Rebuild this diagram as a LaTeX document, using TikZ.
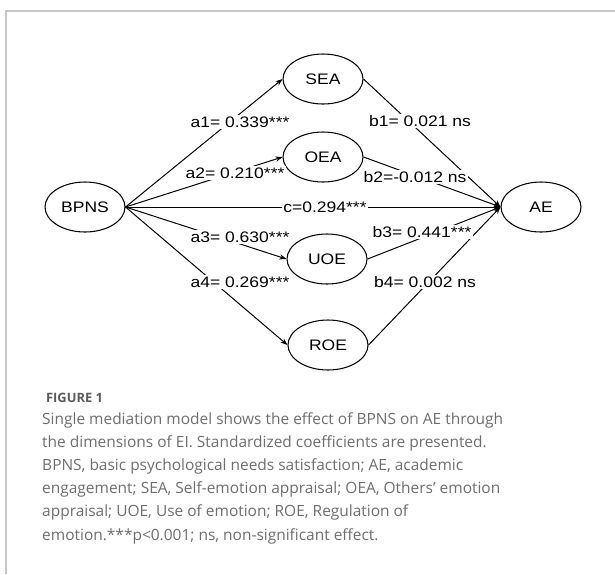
\documentclass[tikz,border=0pt]{standalone}
\usepackage{fontspec}
\setmainfont{Open Sans}
\newfontfamily\diagfont[FakeStretch=1.15]{Liberation Sans}
\usepackage{tikz}
\usetikzlibrary{arrows.meta,shapes.geometric}
\definecolor{framegray}{HTML}{C8C8C8}
\definecolor{capgray}{HTML}{6E6E6E}
\definecolor{headgray}{HTML}{5A5A5A}

\begin{document}
\begin{tikzpicture}[x=0.03cm, y=-0.03cm,
	var/.style={draw, ellipse, inner sep=0pt, line width=0.9pt, minimum width=2.4cm, minimum height=1.5cm, font=\diagfont\fontsize{13}{15}\selectfont},
	coef/.style={fill=white, inner sep=1.5pt, font=\diagfont\fontsize{13}{15}\selectfont},
	link/.style={line width=0.85pt, -{Stealth[length=6pt, width=4.5pt]}}]
		%%%%% START %%%%%
		
		\useasboundingbox (0, 0) rectangle (615, 574);
		\draw[line width=1.2pt, color=framegray] (615, 11) -- (6, 11) -- (6, 574);
		
		\node[var] (BPNS) at (85, 207) {BPNS};
		\node[var] (AE) at (541, 207) {AE};
		\node[var] (SEA) at (323, 79) {SEA};
		\node[var] (OEA) at (323, 157) {OEA};
		\node[var] (UOE) at (327, 259) {UOE};
		\node[var] (ROE) at (328, 345) {ROE};
		
		\draw[link] (BPNS.east) -- (SEA.west);
		\draw[link] (BPNS.east) -- (OEA.west);
		\draw[link] (BPNS.east) -- (AE.west);
		\draw[link] (BPNS.east) -- (UOE.west);
		\draw[link] (BPNS.east) -- (ROE.west);
		
		\draw[link] (SEA.east) -- (AE.west);
		\draw[link] (OEA.east) -- (AE.west);
		\draw[link] (UOE.east) -- (AE.west);
		\draw[link] (ROE.east) -- (AE.west);
		
		\node[coef] (a1) at (240, 122) {a1= 0.339***};
		\node[coef] (a2) at (235, 173) {a2= 0.210***};
		\node[coef] (c) at (325, 207) {c=0.294***};
		\node[coef] (a3) at (240, 237) {a3= 0.630***};
		\node[coef] (a4) at (240, 282) {a4= 0.269***};
		
		\node[coef] (b1) at (420, 121) {b1= 0.021 ns};
		\node[coef] (b2) at (415, 177) {b2=-0.012 ns};
		\node[coef] (b3) at (422, 232) {b3= 0.441***};
		\node[coef] (b4) at (425, 282) {b4= 0.002 ns};
		
		\node[anchor=west, text=headgray, font=\bfseries\fontsize{11}{13}\selectfont] (fig) at (42, 398) {FIGURE 1};
		\node[anchor=north west, inner sep=0pt, align=left, text=capgray, font=\fontsize{13.2}{19.8}\selectfont] (cap) at (42, 412) {Single mediation model shows the effect of BPNS on AE through\\the dimensions of EI. Standardized coefficients are presented.\\BPNS, basic psychological needs satisfaction; AE, academic\\engagement; SEA, Self-emotion appraisal; OEA, Others’ emotion\\appraisal; UOE, Use of emotion; ROE, Regulation of\\emotion.***p<0.001; ns, non-significant effect.};
		
		%%%%% END %%%%%
	\end{tikzpicture}
\end{document}
